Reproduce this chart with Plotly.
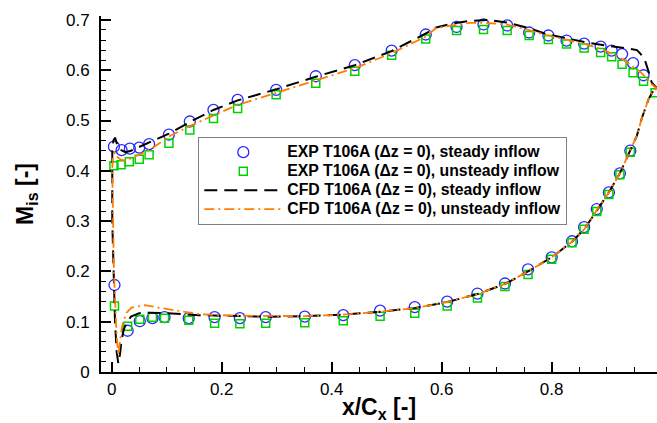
import plotly.graph_objects as go

# Experimental isentropic Mach number, suction side
ss_x_steady = [0.004, 0.018, 0.033, 0.050, 0.068, 0.104, 0.142, 0.185, 0.229, 0.299, 0.371, 0.442,
               0.509, 0.571, 0.627, 0.676, 0.719, 0.759, 0.794, 0.827, 0.859, 0.889, 0.909, 0.928,
               0.948, 0.967]
ss_m_steady = [0.448, 0.441, 0.444, 0.446, 0.453, 0.472, 0.498, 0.521, 0.541, 0.561, 0.588, 0.610,
               0.639, 0.671, 0.686, 0.691, 0.689, 0.675, 0.669, 0.659, 0.653, 0.647, 0.639, 0.632,
               0.614, 0.590]
ss_x_unsteady = [0.004, 0.017, 0.032, 0.050, 0.068, 0.104, 0.142, 0.185, 0.229, 0.299, 0.371, 0.442,
                 0.509, 0.571, 0.627, 0.676, 0.719, 0.759, 0.794, 0.827, 0.859, 0.889, 0.909, 0.928,
                 0.948, 0.967, 0.988]
ss_m_unsteady = [0.410, 0.412, 0.418, 0.423, 0.432, 0.455, 0.481, 0.504, 0.524, 0.551, 0.574, 0.598,
                 0.630, 0.662, 0.679, 0.681, 0.679, 0.669, 0.661, 0.652, 0.644, 0.635, 0.627, 0.612,
                 0.595, 0.578, 0.555]

# Experimental isentropic Mach number, pressure side
ps_x = [0.005, 0.029, 0.051, 0.074, 0.096, 0.140, 0.187, 0.233, 0.280, 0.351, 0.421, 0.488,
        0.551, 0.610, 0.665, 0.715, 0.757, 0.800, 0.837, 0.859, 0.882, 0.904, 0.924, 0.943]
ps_m_steady = [0.173, 0.082, 0.101, 0.107, 0.109, 0.107, 0.109, 0.107, 0.109, 0.110, 0.113, 0.122,
               0.129, 0.140, 0.156, 0.176, 0.204, 0.228, 0.260, 0.288, 0.324, 0.357, 0.395, 0.440]
ps_m_unsteady = [0.131, 0.091, 0.105, 0.109, 0.107, 0.103, 0.097, 0.096, 0.097, 0.098, 0.102, 0.111,
                 0.117, 0.131, 0.147, 0.170, 0.194, 0.224, 0.257, 0.284, 0.319, 0.353, 0.392, 0.437]

# CFD distributions: suction side TE -> LE -> pressure side TE
cfd_x_steady = [0.995, 0.982, 0.976, 0.970, 0.962, 0.955, 0.940, 0.924, 0.900, 0.864, 0.827, 0.790,
                0.761, 0.718, 0.682, 0.651, 0.620, 0.590, 0.571, 0.509, 0.442, 0.371, 0.299, 0.229,
                0.185, 0.142, 0.104, 0.070, 0.050, 0.035, 0.025, 0.015, 0.010, 0.006, 0.003, 0.001,
                0.001, 0.003, 0.006, 0.009, 0.012, 0.015, 0.018, 0.022, 0.027, 0.035, 0.050, 0.070,
                0.100, 0.160, 0.220, 0.280, 0.350, 0.420, 0.490, 0.550, 0.610, 0.665, 0.715, 0.757,
                0.800, 0.837, 0.860, 0.882, 0.904, 0.924, 0.943, 0.955, 0.964, 0.976, 0.985, 0.995]
cfd_m_steady = [0.560, 0.575, 0.598, 0.618, 0.632, 0.640, 0.643, 0.645, 0.649, 0.655, 0.663, 0.672,
                0.683, 0.695, 0.700, 0.698, 0.693, 0.685, 0.673, 0.638, 0.610, 0.587, 0.562, 0.540,
                0.521, 0.497, 0.474, 0.457, 0.447, 0.440, 0.437, 0.442, 0.452, 0.466, 0.460, 0.440,
                0.300, 0.200, 0.100, 0.040, 0.017, 0.035, 0.064, 0.085, 0.098, 0.110, 0.117, 0.118,
                0.117, 0.113, 0.111, 0.110, 0.111, 0.114, 0.120, 0.127, 0.139, 0.155, 0.175, 0.200,
                0.228, 0.259, 0.285, 0.322, 0.357, 0.395, 0.440, 0.470, 0.505, 0.542, 0.560, 0.565]

cfd_x_unsteady = [0.995, 0.982, 0.973, 0.960, 0.948, 0.930, 0.910, 0.890, 0.864, 0.827, 0.790, 0.761,
                  0.718, 0.680, 0.651, 0.620, 0.590, 0.571, 0.509, 0.442, 0.371, 0.299, 0.229, 0.185,
                  0.142, 0.104, 0.070, 0.050, 0.036, 0.025, 0.016, 0.010, 0.005, 0.002, 0.001, 0.002,
                  0.004, 0.007, 0.009, 0.012, 0.015, 0.018, 0.021, 0.027, 0.036, 0.060, 0.090, 0.127,
                  0.160, 0.220, 0.280, 0.350, 0.420, 0.490, 0.550, 0.610, 0.665, 0.715, 0.757, 0.800,
                  0.837, 0.860, 0.882, 0.904, 0.924, 0.943, 0.955, 0.964, 0.976, 0.985, 0.995]
cfd_m_unsteady = [0.560, 0.572, 0.584, 0.598, 0.607, 0.621, 0.633, 0.642, 0.651, 0.660, 0.670, 0.679,
                  0.691, 0.694, 0.694, 0.689, 0.684, 0.667, 0.634, 0.604, 0.580, 0.556, 0.531, 0.510,
                  0.489, 0.468, 0.442, 0.432, 0.425, 0.420, 0.422, 0.428, 0.436, 0.430, 0.400, 0.300,
                  0.200, 0.120, 0.070, 0.034, 0.060, 0.085, 0.100, 0.118, 0.128, 0.133, 0.127, 0.120,
                  0.115, 0.112, 0.111, 0.111, 0.114, 0.120, 0.127, 0.139, 0.155, 0.175, 0.200, 0.228,
                  0.259, 0.285, 0.322, 0.357, 0.395, 0.440, 0.470, 0.505, 0.542, 0.560, 0.565]

x_ticks = [0, 0.2, 0.4, 0.6, 0.8]
x_labels = ["0", "0.2", "0.4", "0.6", "0.8"]
y_ticks = [0, 0.1, 0.2, 0.3, 0.4, 0.5, 0.6, 0.7]
y_labels = ["0", "0.1", "0.2", "0.3", "0.4", "0.5", "0.6", "0.7"]

names = [
    "EXP T106A (\u0394z = 0), steady inflow",
    "EXP T106A (\u0394z = 0), unsteady inflow",
    "CFD T106A (\u0394z = 0), steady inflow",
    "CFD T106A (\u0394z = 0), unsteady inflow",
]


def legend_label(text):
    # larger glyphs than the legend's base font keep the rows compact
    return '<span style="font-size:15.8px">' + text + "</span>"


BLUE = "rgb(40,40,255)"
GREEN = "rgb(0,210,0)"
ORANGE = "rgb(255,125,0)"

fig = go.Figure()

circle = dict(symbol="circle-open", size=11, color=BLUE, line=dict(width=1.3, color=BLUE))
square = dict(symbol="square-open", size=8, color=GREEN, line=dict(width=1.5, color=GREEN))

fig.add_trace(go.Scatter(x=ss_x_steady + ps_x, y=ss_m_steady + ps_m_steady, mode="markers",
                         marker=circle, name=legend_label(names[0]), legendrank=1))
fig.add_trace(go.Scatter(x=ss_x_unsteady + ps_x, y=ss_m_unsteady + ps_m_unsteady, mode="markers",
                         marker=square, name=legend_label(names[1]), legendrank=2))
fig.add_trace(go.Scatter(x=cfd_x_steady, y=cfd_m_steady, mode="lines",
                         line=dict(color="black", width=2, dash="13px,7px"),
                         name=legend_label(names[2]), legendrank=3))
fig.add_trace(go.Scatter(x=cfd_x_unsteady, y=cfd_m_unsteady, mode="lines",
                         line=dict(color=ORANGE, width=1.8, dash="10px,4px,2px,4px"),
                         name=legend_label(names[3]), legendrank=4))

font_family = "Liberation Sans, Arial, Helvetica, sans-serif"

axis_common = dict(
    showline=True, linecolor="black", linewidth=2, mirror=False,
    showgrid=False, zeroline=False,
    ticks="inside", ticklen=10, tickwidth=1.5, tickcolor="black",
    tickfont=dict(family=font_family, size=17, color="black"),
)

fig.update_xaxes(
    range=[-0.0195, 0.9915], tickvals=x_ticks, ticktext=x_labels,
    ticklabelstandoff=1,
    minor=dict(dtick=0.05, tick0=0, ticks="inside", ticklen=5, tickwidth=1, tickcolor="black"),
    title=dict(text="x/C<sub>x</sub> [-]", standoff=5,
               font=dict(family=font_family, size=23, color="black", weight="bold")),
    **axis_common,
)
fig.update_yaxes(
    range=[0, 0.7078], tickvals=y_ticks, ticktext=y_labels,
    ticklabelstandoff=6,
    minor=dict(dtick=0.02, tick0=0, ticks="inside", ticklen=5, tickwidth=1, tickcolor="black"),
    title=dict(text="M<sub>is</sub> [-]", standoff=26,
               font=dict(family=font_family, size=23, color="black", weight="bold")),
    **axis_common,
)

fig.update_layout(
    width=657, height=423, autosize=False,
    margin=dict(l=101, r=0, t=16, b=51),
    paper_bgcolor="white", plot_bgcolor="white",
    font=dict(family=font_family, color="black"),
    legend=dict(
        x=0.175, y=0.661, xanchor="left", yanchor="top",
        bgcolor="white", bordercolor="rgb(128,128,128)", borderwidth=1,
        font=dict(family=font_family, size=12, color="black", weight="bold"),
        itemwidth=78, tracegroupgap=0,
    ),
    showlegend=True,
)

fig.write_html("out.html")
